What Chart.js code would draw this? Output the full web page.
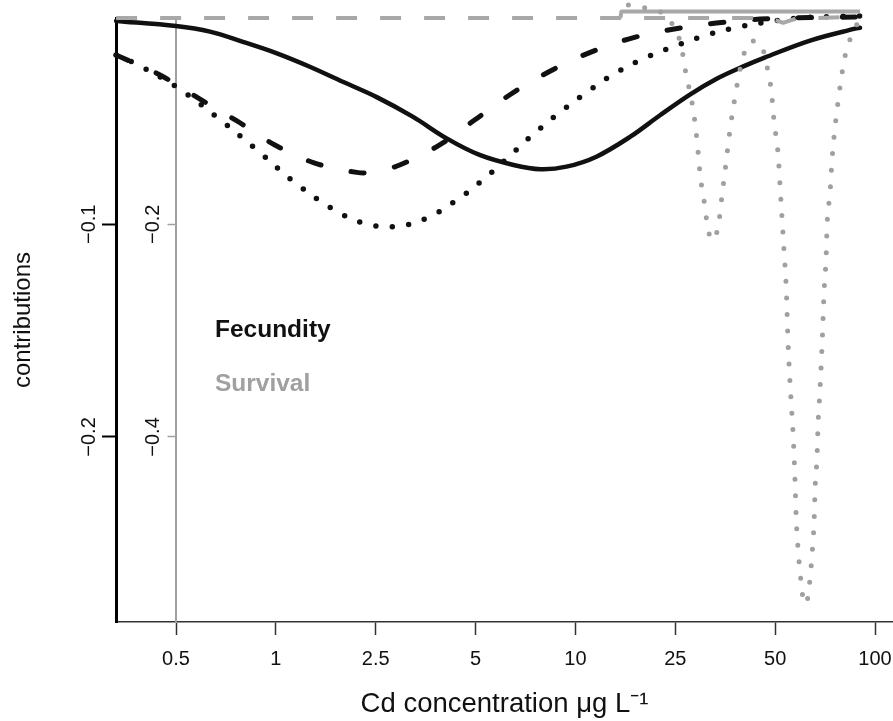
<!DOCTYPE html>
<html><head><meta charset="utf-8">
<script src="https://cdn.jsdelivr.net/npm/chart.js@4.4.1/dist/chart.umd.min.js"></script>
<style>html,body{margin:0;padding:0;background:#fff;} #wrap{width:893px;height:721px;}</style>
</head><body><div id="wrap"><canvas id="c" width="893" height="721"></canvas></div>
<script>
// ---- axis definitions ----
const tickPositions = [0, 1, 2, 3, 4, 5, 6, 7];
const tickLabels = ['0.5', '1', '2.5', '5', '10', '25', '50', '100'];
const fecundityTicks = [-0.1, -0.2];
const survivalTicks = [-0.2, -0.4];
const legendLabels = ['Fecundity', 'Survival'];
const xTitle = 'Cd concentration \u03BCg L\u207B\u00B9';
const yTitle = 'contributions';

// ---- fecundity contributions (black, left axis) ----
const fecSolidX = [-0.60, 0.00, 0.34, 0.67, 1.01, 1.34, 1.67, 2.01, 2.37, 2.71, 3.04, 3.38, 3.65, 3.91, 4.21, 4.55, 4.85, 5.15, 5.41, 5.67, 5.90, 6.35, 6.80, 6.85];
const fecSolidY = [-0.0044, -0.0068, -0.0094, -0.0142, -0.0196, -0.0259, -0.0330, -0.0402, -0.0494, -0.0596, -0.0674, -0.0721, -0.0741, -0.0729, -0.0682, -0.0588, -0.0486, -0.0389, -0.0317, -0.0260, -0.0215, -0.0136, -0.0080, -0.0076];

const fecDashX = [-0.60, -0.16, 0.22, 0.61, 0.99, 1.39, 1.81, 1.99, 2.24, 2.64, 2.99, 3.34, 3.73, 4.13, 4.53, 4.96, 5.41, 5.85, 6.35, 6.85];
const fecDashY = [-0.0204, -0.0298, -0.0406, -0.0514, -0.0627, -0.0712, -0.0756, -0.0754, -0.0721, -0.0627, -0.0510, -0.0392, -0.0284, -0.0195, -0.0129, -0.0084, -0.0054, -0.0035, -0.0028, -0.0025];

const fecDotX = [-0.60, -0.41, 0.02, 0.41, 0.80, 1.17, 1.57, 1.87, 2.20, 2.52, 2.80, 3.06, 3.31, 3.55, 3.81, 4.07, 4.34, 4.63, 4.93, 5.24, 5.56, 5.88, 6.21, 6.55, 6.85];
const fecDotY = [-0.0204, -0.0243, -0.0359, -0.0496, -0.0646, -0.0796, -0.0928, -0.0994, -0.1011, -0.0969, -0.0890, -0.0796, -0.0692, -0.0588, -0.0486, -0.0394, -0.0306, -0.0232, -0.0174, -0.0121, -0.0080, -0.0052, -0.0031, -0.0023, -0.0021];

// ---- survival contributions (grey, inner axis) ----
const survDashX = [-0.60, 5.95, 6.08, 6.22, 6.40, 6.85];
const survDashY = [-0.006, -0.006, -0.0105, -0.006, -0.006, -0.0045];

const survSolidX = [4.45, 4.46, 6.85];
const survSolidY = [-0.006, 0.0, 0.0];

const survDotX = [4.53, 4.67, 4.80, 4.92, 5.00, 5.06, 5.10, 5.15, 5.18, 5.22, 5.25, 5.30, 5.32, 5.37, 5.43, 5.47, 5.51, 5.55, 5.60, 5.66, 5.71, 5.77, 5.83, 5.90, 5.93, 5.96, 5.99, 6.03, 6.05, 6.07, 6.09, 6.11, 6.13, 6.16, 6.18, 6.20, 6.21, 6.23, 6.26, 6.28, 6.31, 6.34, 6.37, 6.39, 6.40, 6.42, 6.43, 6.44, 6.47, 6.49, 6.51, 6.52, 6.55, 6.57, 6.60, 6.64, 6.69, 6.73, 6.80, 6.85];
const survDotY = [0.0062, 0.0040, 0.0015, -0.0051, -0.0173, -0.0323, -0.0549, -0.0775, -0.0925, -0.1236, -0.1546, -0.1853, -0.2007, -0.2150, -0.2016, -0.1712, -0.1405, -0.1094, -0.0791, -0.0493, -0.0339, -0.0276, -0.0286, -0.0424, -0.0575, -0.0731, -0.1038, -0.1346, -0.1656, -0.1960, -0.2270, -0.2580, -0.3135, -0.3671, -0.3978, -0.4442, -0.4749, -0.5063, -0.5370, -0.5523, -0.5570, -0.5410, -0.5100, -0.4790, -0.4481, -0.4176, -0.3866, -0.3708, -0.3135, -0.2627, -0.2314, -0.2007, -0.1696, -0.1386, -0.1082, -0.0775, -0.0464, -0.0314, -0.0157, -0.0060];

const FONT = "'Liberation Sans', Arial, Helvetica, sans-serif";
const GRAY = '#a0a0a0';
const pts = (xs, ys) => xs.map((x, i) => ({x: x, y: ys[i]}));
const fmt = v => (v < 0 ? '\u2212' : '') + Math.abs(v).toFixed(1);

function line(label, xs, ys, axis, color, width, dash, cap, order, smooth) {
  const d = {label, data: pts(xs, ys), yAxisID: axis, borderColor: color, backgroundColor: color,
    borderWidth: width, borderDash: dash, borderCapStyle: cap, borderJoinStyle: 'round', pointRadius: 0, pointHoverRadius: 0,
    fill: false, clip: false, order: order};
  if (smooth === 'mono') { d.cubicInterpolationMode = 'monotone'; } else { d.tension = smooth; }
  return d;
}

const extras = {
  id: 'extras',
  afterDraw(chart) {
    const ctx = chart.ctx;
    const xs = chart.scales.x, y2 = chart.scales.y2;
    const ax = xs.getPixelForValue(0);
    ctx.save();
    ctx.fillStyle = '#111';
    ctx.font = '20px ' + FONT;
    ctx.textAlign = 'center';
    ctx.textBaseline = 'middle';
    survivalTicks.forEach(v => {
      const py = y2.getPixelForValue(v);
      ctx.save();
      ctx.translate(ax - 23, py);
      ctx.rotate(-Math.PI / 2);
      ctx.fillText(fmt(v), 0, 0);
      ctx.restore();
    });
    ctx.textAlign = 'left';
    ctx.textBaseline = 'alphabetic';
    ctx.font = 'bold 24.5px ' + FONT;
    const lx = xs.getPixelForValue(0.39);
    ctx.fillStyle = '#111';
    ctx.fillText(legendLabels[0], lx, 337);
    ctx.fillStyle = GRAY;
    ctx.fillText(legendLabels[1], lx, 391);
    ctx.restore();
  }
};

new Chart(document.getElementById('c'), {
  type: 'line',
  data: {datasets: [
    line('Survival dotted', survDotX, survDotY, 'y2', GRAY, 5, [0, 16.5], 'round', 0, 'mono'),
    line('Survival solid', survSolidX, survSolidY, 'y2', '#a8a8a8', 4, [], 'butt', 1, 0),
    line('Survival dashed', survDashX, survDashY, 'y2', '#a8a8a8', 4, [21, 23], 'butt', 2, 0),
    line('Fecundity solid', fecSolidX, fecSolidY, 'y', '#111', 4.5, [], 'round', 3, 0.35),
    line('Fecundity dashed', fecDashX, fecDashY, 'y', '#111', 5, [13, 31], 'round', 4, 0.35),
    line('Fecundity dotted', fecDotX, fecDotY, 'y', '#111', 5.5, [0, 16.5], 'round', 5, 0.35)
  ]},
  options: {
    responsive: false, animation: false,
    layout: {padding: {top: 18, left: 0, right: 0, bottom: 0}},
    plugins: {legend: {display: false}, tooltip: {enabled: false}},
    scales: {
      x: {
        type: 'linear', min: -0.601, max: 7.18,
        afterBuildTicks: s => { s.ticks = tickPositions.map(v => ({value: v})); },
        afterFit: s => { s.height = 99; s.paddingLeft = 0; s.paddingRight = 0; },
        ticks: {callback: (v, i) => tickLabels[i], font: {family: FONT, size: 20}, color: '#111', padding: 12, maxRotation: 0, minRotation: 0, autoSkip: false},
        grid: {drawOnChartArea: false, drawTicks: true, tickLength: 13, tickColor: '#333', tickWidth: 1.5},
        border: {display: true, color: '#333', width: 1.5},
        title: {display: true, text: xTitle, font: {family: FONT, size: 27.5}, color: '#111', padding: {top: 0, bottom: 0}}
      },
      y: {
        type: 'linear', position: 'left', min: -0.287, max: -0.003,
        afterBuildTicks: s => { s.ticks = fecundityTicks.map(v => ({value: v})); },
        afterFit: s => { s.width = 116; s.paddingTop = 0; s.paddingBottom = 0; },
        ticks: {callback: v => fmt(v), minRotation: 90, maxRotation: 90, crossAlign: 'center', padding: -7, font: {family: FONT, size: 20}, color: '#111', autoSkip: false},
        grid: {drawOnChartArea: false, drawTicks: true, tickLength: 14, tickColor: '#000', tickWidth: 2},
        border: {display: true, color: '#000', width: 3},
        title: {display: true, text: yTitle, font: {family: FONT, size: 24}, color: '#111', padding: {top: 9, bottom: 0}}
      },
      y2: {
        type: 'linear', position: {x: 0}, min: -0.574, max: -0.006,
        afterBuildTicks: s => { s.ticks = survivalTicks.map(v => ({value: v})); },
        ticks: {display: false},
        grid: {drawOnChartArea: false, drawTicks: true, tickLength: 7.5, tickColor: GRAY, tickWidth: 1.5},
        border: {display: true, color: GRAY, width: 2}
      }
    }
  },
  plugins: [extras]
});
</script>
</body></html>
